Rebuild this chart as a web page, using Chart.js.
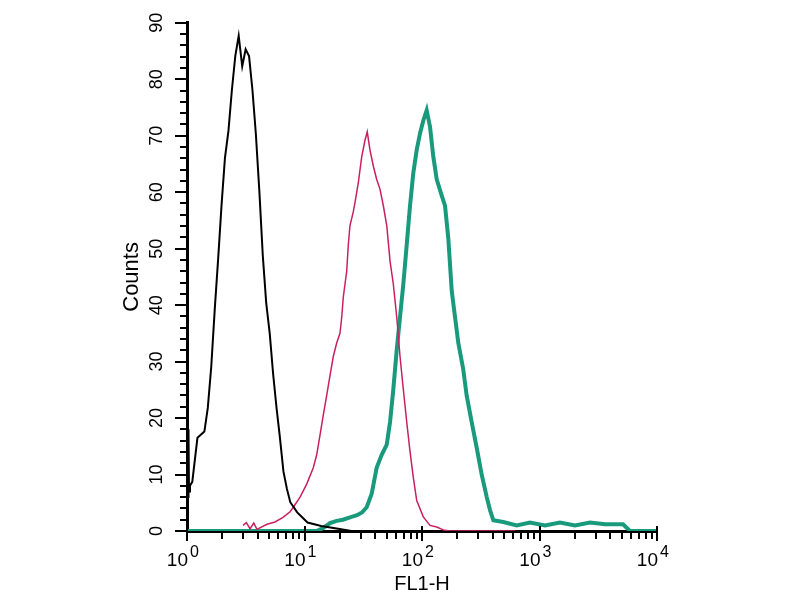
<!DOCTYPE html>
<html>
<head>
<meta charset="utf-8">
<script src="https://cdn.jsdelivr.net/npm/chart.js@4/dist/chart.umd.min.js"></script>
<style>
html,body{margin:0;padding:0;background:#fff;}
#wrap{width:800px;height:600px;}
</style>
</head>
<body>
<div id="wrap"><canvas id="c" width="800" height="600"></canvas></div>
<script>
// ---- data (FL1-H value, Counts) ----
const xTitle = 'FL1-H';
const yTitle = 'Counts';
const xTickBase = '10';
const xTickExponents = ['0', '1', '2', '3', '4'];
const yTickValues = [0, 10, 20, 30, 40, 50, 60, 70, 80, 90];

const blackX = [1.0, 1.007, 1.015, 1.022, 1.03, 1.04, 1.06, 1.109, 1.227, 1.406, 1.503, 1.607, 1.722, 1.841, 1.968, 2.104, 2.254, 2.410, 2.576, 2.754, 2.951, 3.155, 3.373, 3.606, 3.855, 4.130, 4.416, 4.721, 5.058, 5.408, 5.781, 6.180, 6.622, 7.079, 7.568, 8.670, 10.62, 13.87, 18.2, 25.1, 117];
const blackY = [36, 4, 22, 6, 18, 7, 8, 8.7, 16.5, 17.6, 21.8, 29.0, 39.2, 48.2, 57.7, 66.1, 70.9, 78.1, 84.1, 87.7, 82.3, 85.3, 84.1, 78.1, 70.3, 60.1, 48.8, 40.4, 35.0, 27.8, 21.8, 16.5, 10.5, 7.5, 5.1, 3.3, 1.5, 0.9, 0.5, 0, 0];

const pinkX = [3.0, 3.2, 3.44, 3.7, 3.94, 4.80, 5.61, 6.56, 7.53, 8.03, 9.16, 10.44, 11.88, 12.70, 13.55, 14.45, 15.45, 16.48, 17.58, 18.79, 20.04, 20.75, 21.38, 22.86, 23.60, 24.38, 26.00, 26.92, 28.71, 30.69, 32.73, 34.20, 36.06, 38.55, 41.11, 43.95, 46.88, 50.12, 53.46, 57.02, 60.95, 65.01, 69.34, 74.13, 79.07, 84.33, 90.16, 102.6, 117.0, 133.4, 151.7, 173, 617];
const pinkY = [1.0, 1.5, 0.4, 1.4, 0.3, 1.2, 1.6, 2.4, 3.4, 4.2, 6.0, 8.3, 11.2, 13.5, 17.0, 20.5, 24.0, 27.5, 30.9, 33.3, 35.0, 37.9, 41.4, 46.0, 50.7, 54.1, 56.5, 58.2, 61.7, 66.3, 69.2, 70.7, 67.5, 64.6, 62.3, 60.5, 57.6, 54.1, 47.8, 43.7, 37.9, 30.9, 25.1, 19.3, 14.1, 9.5, 5.4, 2.5, 1.0, 0.7, 0.2, 0, 0];

const greenX = [1.0, 12.70, 14.37, 16.48, 18.79, 21.26, 24.38, 27.99, 30.86, 33.83, 37.32, 41.11, 45.39, 50.12, 53.46, 57.02, 60.95, 65.01, 69.34, 74.13, 79.07, 84.33, 90.16, 96.16, 102.6, 109.6, 117.0, 124.8, 133.4, 147.2, 157.0, 167.5, 179.1, 191.0, 203.7, 224.5, 239.9, 264.8, 292.4, 322.1, 355.6, 379.3, 404.6, 492.0, 639.7, 829.8, 1114, 1493, 2004, 2692, 3606, 5140, 5888, 10000];
const greenY = [0, 0, 0.5, 1.4, 1.8, 2.0, 2.4, 2.8, 3.3, 4.2, 6.6, 11.2, 13.5, 15.3, 19.3, 25.1, 32.1, 37.9, 43.7, 50.7, 57.6, 63.4, 67.5, 70.4, 72.7, 74.5, 71.6, 66.3, 62.3, 59.4, 57.6, 51.8, 42.5, 37.9, 33.3, 28.6, 24.0, 19.3, 14.7, 10.0, 6.0, 3.7, 1.9, 1.6, 1.0, 1.5, 1.0, 1.5, 1.0, 1.5, 1.2, 1.2, 0, 0];

const toPts = (xs, ys) => xs.map((x, i) => ({x: x, y: ys[i]}));

const FONT = "'Liberation Sans', Arial, sans-serif";

const axisDecor = {
  id: 'axisDecor',
  afterDraw(chart) {
    const ctx = chart.ctx;
    const xs = chart.scales.x, ys = chart.scales.y;
    const left = chart.chartArea.left, bottom = chart.chartArea.bottom;
    ctx.save();
    ctx.strokeStyle = '#000';
    ctx.lineWidth = 2;
    ctx.beginPath();
    // y ticks: every 2, major every 10
    for (let v = 0; v <= 90; v += 2) {
      const y = Math.round(ys.getPixelForValue(v));
      const len = (v % 10 === 0) ? 11 : 6;
      ctx.moveTo(left - 1, y);
      ctx.lineTo(left - 1 - len, y);
    }
    // x ticks: decades major, 2..9 minor
    for (let d = 0; d <= 4; d++) {
      const px = Math.round(xs.getPixelForValue(Math.pow(10, d)));
      ctx.moveTo(px, bottom - 5);
      ctx.lineTo(px, bottom + 10);
      if (d < 4) {
        for (let m = 2; m <= 9; m++) {
          const mx = Math.round(xs.getPixelForValue(m * Math.pow(10, d)));
          ctx.moveTo(mx, bottom + 1);
          ctx.lineTo(mx, bottom + 8);
        }
      }
    }
    ctx.stroke();
    // x tick labels 10^n
    ctx.fillStyle = '#000';
    xTickExponents.forEach((e, d) => {
      const px = xs.getPixelForValue(Math.pow(10, d));
      ctx.font = '19px ' + FONT;
      ctx.textAlign = 'right';
      ctx.textBaseline = 'alphabetic';
      ctx.fillText(xTickBase, px + 1, 566);
      ctx.font = '16px ' + FONT;
      ctx.textAlign = 'left';
      ctx.fillText(e, px + 3, 557);
    });
    ctx.restore();
  }
};

new Chart(document.getElementById('c'), {
  type: 'line',
  data: {
    datasets: [
      {label: 'black', data: toPts(blackX, blackY), borderColor: '#000000', borderWidth: 2},
      {label: 'pink', data: toPts(pinkX, pinkY), borderColor: '#c8215f', borderWidth: 1.5},
      {label: 'green', data: toPts(greenX, greenY), borderColor: '#1a9a7c', borderWidth: 4}
    ]
  },
  options: {
    responsive: false,
    animation: false,
    devicePixelRatio: 1,
    layout: {padding: {left: 115, right: 143, top: 14, bottom: 0}},
    elements: {point: {radius: 0}, line: {tension: 0}},
    plugins: {legend: {display: false}, tooltip: {enabled: false}},
    scales: {
      x: {
        type: 'logarithmic',
        min: 1, max: 10000,
        grid: {display: false},
        border: {display: true, color: '#000', width: 3},
        ticks: {display: false},
        title: {display: true, text: xTitle, color: '#000', font: {family: FONT, size: 20}, padding: {top: 4, bottom: 4}},
        afterFit(s) { s.height = 69; }
      },
      y: {
        min: 0, max: 90,
        afterBuildTicks(s) { s.ticks = yTickValues.map(v => ({value: v})); },
        grid: {display: false},
        border: {display: true, color: '#000', width: 3},
        ticks: {
          color: '#000', font: {family: FONT, size: 18},
          minRotation: 90, maxRotation: 90, crossAlign: 'center',
          padding: 12, autoSkip: false
        },
        title: {display: true, text: yTitle, color: '#000', font: {family: FONT, size: 22}, padding: {top: 4, bottom: 4}},
        afterFit(s) { s.width = 72; }
      }
    }
  },
  plugins: [axisDecor]
});
</script>
</body>
</html>
